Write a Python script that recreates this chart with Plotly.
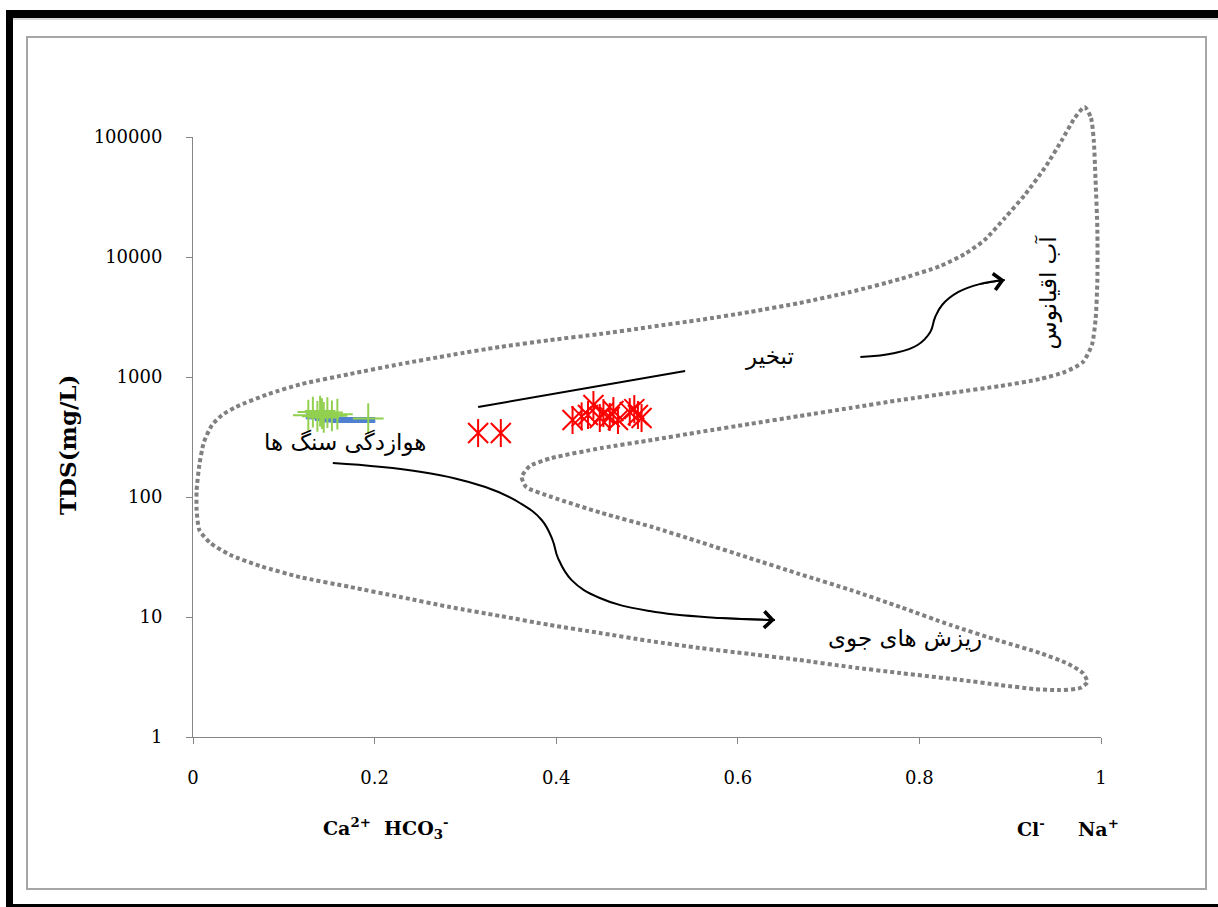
import math
import plotly.graph_objects as go

# ---- Gibbs diagram data ----
# Envelope (dotted boundary): ratio on x, TDS (mg/L) on y
env_x = [0.982, 0.989, 0.992, 0.994, 0.996, 0.996, 0.994, 0.990, 0.980, 0.960, 0.933, 0.889,
         0.834, 0.779, 0.724, 0.668, 0.613, 0.558, 0.506, 0.450, 0.395, 0.371, 0.362, 0.367,
         0.395, 0.450, 0.506, 0.558, 0.613, 0.668, 0.724, 0.779, 0.834, 0.889, 0.933, 0.964,
         0.980, 0.985, 0.977, 0.955, 0.927, 0.889, 0.845, 0.779, 0.724, 0.668, 0.613, 0.558,
         0.503, 0.448, 0.393, 0.338, 0.283, 0.228, 0.173, 0.118, 0.074, 0.041, 0.019, 0.007,
         0.004, 0.004, 0.007, 0.012, 0.021, 0.032, 0.047, 0.083, 0.120, 0.173, 0.228, 0.283,
         0.338, 0.393, 0.448, 0.503, 0.558, 0.613, 0.668, 0.724, 0.779, 0.823, 0.850, 0.872,
         0.894, 0.916, 0.938, 0.957, 0.971, 0.982]
env_tds = [178000, 144000, 94400, 43800, 16800, 6430, 2990, 1850, 1330, 1100, 962, 841,
           736, 643, 552, 473, 406, 348, 299, 256, 211, 181, 147, 121,
           100, 73.6, 56.2, 42.2, 31.0, 22.8, 16.8, 12.1, 8.58, 6.31, 5.01, 4.06,
           3.41, 2.87, 2.56, 2.46, 2.51, 2.71, 2.99, 3.41, 3.83, 4.38, 4.92, 5.52,
           6.31, 7.36, 8.58, 10.2, 12.1, 14.7, 17.8, 21.5, 26.6, 32.9, 41.4, 53.1,
           78.0, 114, 185, 287, 398, 482, 562, 721, 875, 1060, 1280, 1520,
           1780, 2030, 2280, 2610, 2990, 3480, 4140, 5110, 6560, 8410, 10600, 13900,
           21100, 32900, 55200, 94400, 144000, 178000]

# Samples
green_x = [0.127, 0.132, 0.137, 0.140, 0.142, 0.144, 0.148, 0.153, 0.159, 0.193]
green_tds = [480, 510, 470, 520, 495, 460, 505, 475, 490, 450]

blue_x = [0.135, 0.145, 0.155, 0.165, 0.175, 0.185, 0.190]
blue_tds = [470, 455, 442, 438, 438, 438, 438]

red_x = [0.314, 0.339, 0.418, 0.428, 0.435, 0.441, 0.448, 0.452, 0.459, 0.463, 0.468,
         0.481, 0.486, 0.490, 0.494]
red_tds = [341, 341, 438, 470, 482, 584, 455, 500, 465, 520, 438,
           510, 540, 482, 455]

# Trend lines / arrows
evap_line_x = [0.314, 0.542]
evap_line_tds = [562, 1122]

ocean_arrow_x = [0.735, 0.773, 0.798, 0.812, 0.817, 0.825, 0.843, 0.867, 0.894]
ocean_arrow_tds = [1468, 1585, 1848, 2371, 3102, 3981, 5110, 5957, 6430]

rain_arrow_x = [0.154, 0.250, 0.322, 0.360, 0.384, 0.396, 0.402, 0.417, 0.448, 0.503, 0.580, 0.641]
rain_arrow_tds = [192, 162, 121, 89.1, 64.3, 43.8, 31.0, 20.3, 14.4, 11.2, 9.81, 9.44]

x_ticks = [0, 0.2, 0.4, 0.6, 0.8, 1]
x_ticktext = ["0", "0.2", "0.4", "0.6", "0.8", "1"]
y_ticks = [1, 10, 100, 1000, 10000, 100000]
y_ticktext = ["1", "10", "100", "1000", "10000", "100000"]

# ---- layout geometry ----
W, H = 1218, 907
ML, MR, MT, MB = 193, 117, 87, 170
PW, PH = W - ML - MR, H - MT - MB
MAIN_H = 600  # height of the main log axis (5 decades)
main_top = MAIN_H / PH


def fx(p):
    return (p - ML) / PW


def fy(p):
    return (H - MB - p) / PH


AX = "#868686"
SERIF = "DejaVu Serif"
ARABIC = "DejaVu Sans"

fig = go.Figure()

# envelope on an auxiliary subplot so it may extend above 100000
fig.add_trace(go.Scatter(
    x=env_x, y=env_tds, xaxis="x2", yaxis="y2", mode="lines",
    line=dict(color="#808080", width=4, dash="4px,3px", shape="spline", smoothing=0.6),
    hoverinfo="skip", showlegend=False))

fig.add_trace(go.Scatter(
    x=evap_line_x, y=evap_line_tds, mode="lines",
    line=dict(color="black", width=2), showlegend=False))
fig.add_trace(go.Scatter(
    x=ocean_arrow_x, y=ocean_arrow_tds, mode="lines",
    line=dict(color="black", width=2, shape="spline", smoothing=1.2), showlegend=False))
fig.add_trace(go.Scatter(
    x=rain_arrow_x, y=rain_arrow_tds, mode="lines",
    line=dict(color="black", width=2, shape="spline", smoothing=1.2), showlegend=False))

fig.add_trace(go.Scatter(
    x=blue_x, y=blue_tds, mode="markers",
    marker=dict(symbol="line-ew-open", size=14, color="#4f81d0",
                line=dict(color="#4f81d0", width=6)),
    showlegend=False))
fig.add_trace(go.Scatter(
    x=green_x, y=green_tds, mode="markers",
    marker=dict(symbol="cross-thin-open", size=22, color="#92d050",
                line=dict(color="#92d050", width=2)),
    showlegend=False))
# six-armed star markers: an x plus a vertical stroke
for sym in ["x-thin-open", "line-ns-open"]:
    fig.add_trace(go.Scatter(
        x=red_x, y=red_tds, mode="markers",
        marker=dict(symbol=sym, size=20, color="#ff0000",
                    line=dict(color="#ff0000", width=2)),
        showlegend=False))

annotations = []
# arrowheads at the ends of the curved arrows
for xs, ys in [(ocean_arrow_x, ocean_arrow_tds), (rain_arrow_x, rain_arrow_tds)]:
    annotations.append(dict(
        x=xs[-1], y=math.log10(ys[-1]), ax=xs[-2], ay=math.log10(ys[-2]),
        xref="x", yref="y", axref="x", ayref="y", text="", showarrow=True,
        arrowhead=4, arrowsize=2, arrowwidth=1.6, arrowcolor="black", standoff=0))

afont = dict(family=ARABIC, size=23, color="black")
center = dict(xanchor="center", yanchor="middle", showarrow=False)
annotations += [
    dict(x=0.167, y=2.458, xref="x", yref="y", text="هوازدگی سنگ ها", font=afont, **center),
    dict(x=0.635, y=3.167, xref="x", yref="y", text="تبخیر", font=afont, **center),
    dict(x=0.942, y=3.708, xref="x", yref="y", text="آب اقیانوس",
         font=afont, textangle=-90, **center),
    dict(x=0.784, y=0.825, xref="x", yref="y", text="ریزش های جوی", font=afont, **center),
    dict(x=fx(67), y=fy(445), xref="paper", yref="paper", text="<b>TDS(mg/L)</b>",
         textangle=-90, font=dict(family=SERIF, size=23, color="black"), **center),
    dict(x=fx(386), y=fy(828), xref="paper", yref="paper",
         text="<b>Ca<sup>2+</sup>  HCO<sub>3</sub><sup>-</sup></b>",
         font=dict(family=SERIF, size=19, color="black"), **center),
    dict(x=fx(1068), y=fy(828), xref="paper", yref="paper",
         text="<b>Cl<sup>-</sup>     Na<sup>+</sup></b>",
         font=dict(family=SERIF, size=19, color="black"), **center),
]

shapes = [
    # outer frame
    dict(type="rect", xref="paper", yref="paper", x0=fx(6), x1=fx(1218), y0=fy(10), y1=fy(18),
         fillcolor="black", line=dict(width=0), layer="above"),
    dict(type="line", xref="paper", yref="paper", x0=fx(13), x1=fx(1218), y0=fy(19), y1=fy(19),
         line=dict(color="#b0b0b0", width=1)),
    dict(type="rect", xref="paper", yref="paper", x0=fx(6), x1=fx(13), y0=fy(10), y1=fy(907),
         fillcolor="black", line=dict(width=0), layer="above"),
    dict(type="rect", xref="paper", yref="paper", x0=fx(6), x1=fx(1218), y0=fy(904), y1=fy(907),
         fillcolor="black", line=dict(width=0), layer="above"),
    # chart area border
    dict(type="rect", xref="paper", yref="paper", x0=fx(27), x1=fx(1206), y0=fy(37), y1=fy(889),
         line=dict(color="#a6a6a6", width=2), layer="below"),
]

tickfont = dict(family=SERIF, size=18, color="black")
fig.update_layout(
    width=W, height=H,
    margin=dict(l=ML, r=MR, t=MT, b=MB, pad=0),
    paper_bgcolor="white", plot_bgcolor="rgba(0,0,0,0)",
    showlegend=False,
    xaxis=dict(domain=[0, 1], range=[0, 1], anchor="y", tickvals=x_ticks, ticktext=x_ticktext,
               showline=True, linecolor=AX, linewidth=1, ticks="outside", ticklen=6,
               tickcolor=AX, showgrid=False, zeroline=False, tickfont=tickfont,
               ticklabelstandoff=18),
    yaxis=dict(domain=[0, main_top], type="log", range=[0, 5], anchor="x",
               tickvals=y_ticks, ticktext=y_ticktext,
               showline=True, linecolor=AX, linewidth=1, ticks="outside", ticklen=6,
               tickcolor=AX, showgrid=False, zeroline=False, tickfont=tickfont,
               ticklabelstandoff=20),
    xaxis2=dict(domain=[0, 1], range=[0, 1], anchor="y2", visible=False),
    yaxis2=dict(domain=[0, 1], type="log", range=[0, 5 * PH / MAIN_H], anchor="x2", visible=False),
    annotations=annotations,
    shapes=shapes,
)

fig.write_html("out.html")
